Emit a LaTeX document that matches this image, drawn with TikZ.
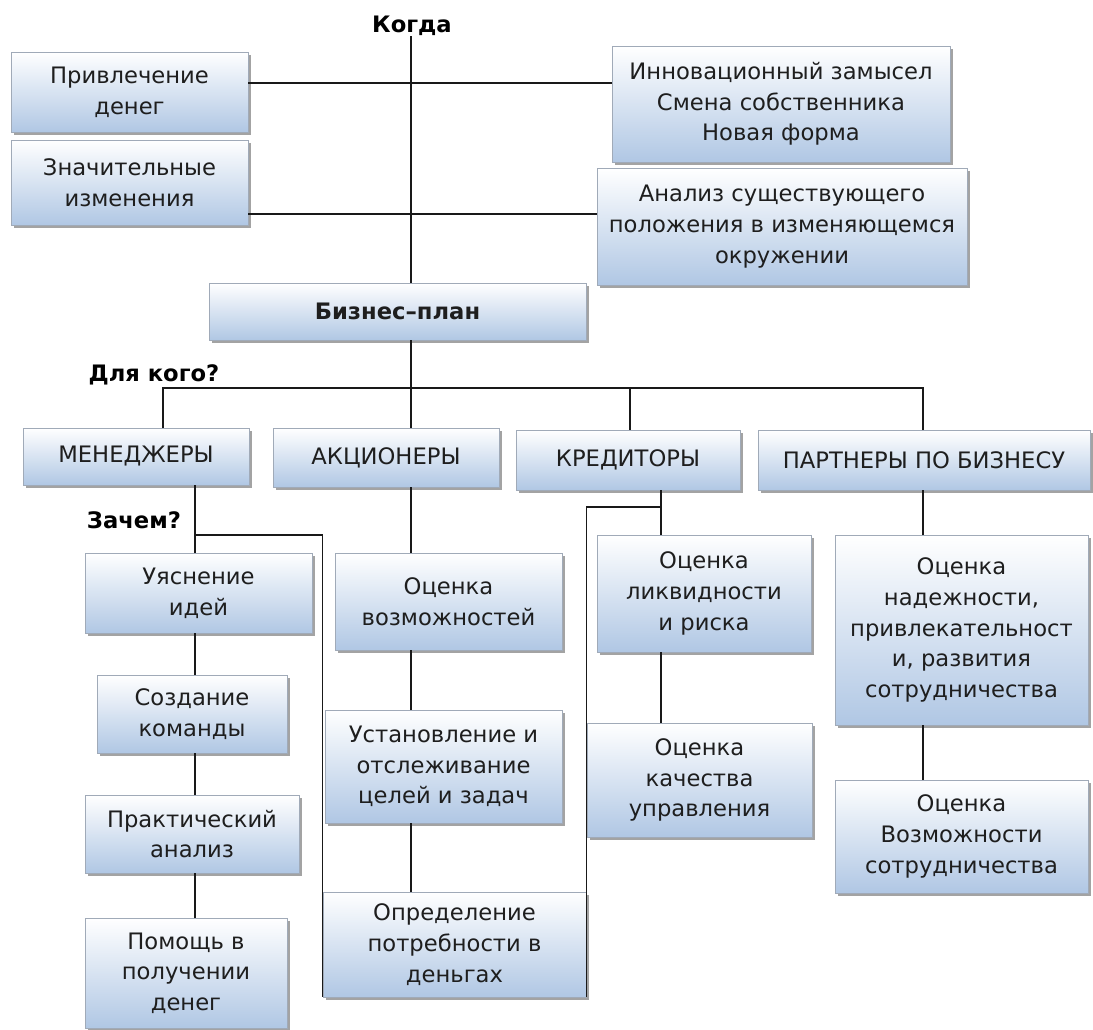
\documentclass[tikz,border=0pt]{standalone}
\usepackage{fontspec}
\setmainfont{DejaVu Sans}
\usetikzlibrary{shadows}
\definecolor{boxblue}{RGB}{176,199,228}
\definecolor{boxedge}{RGB}{160,170,184}
\definecolor{txt}{RGB}{30,30,30}
\tikzset{
  box/.style={draw=boxedge, line width=0.6pt, top color=white, bottom color=boxblue,
    align=center, inner sep=0pt, text=txt, font=\fontsize{17}{23}\selectfont,
    drop shadow={shadow xshift=2pt, shadow yshift=-2.2pt, fill=black!60, opacity=0.6}},
  lbl/.style={font=\fontsize{17}{20}\selectfont\bfseries, inner sep=0pt, text=black},
  conn/.style={line width=1.3pt, black!90}
}
\newcommand\boxat[6]{\node[box, minimum width={(#4-#2)*0.75pt}, minimum height={(#5-#3)*0.75pt}] (#1) at ({(#2+#4)/2},{(#3+#5)/2}) {#6};}
\begin{document}
\begin{tikzpicture}[x=0.75pt,y=-0.75pt]
\useasboundingbox (0,0) rectangle (1093,1030);
% labels
\node[lbl] (kogda) at (412,26) {Когда};
\node[lbl] (dlya) at (154,375) {Для кого?};
\node[lbl] (zachem) at (134,520) {Зачем?};
% top boxes
\boxat{privl}{11}{52}{248}{132}{Привлечение\\денег}
\boxat{znach}{11}{140}{248}{225}{Значительные\\изменения}
\boxat{innov}{612}{46}{950}{162}{Инновационный замысел\\Смена собственника\\Новая форма}
\boxat{anal}{597}{168}{967}{285}{Анализ существующего\\положения в изменяющемся\\окружении}
\boxat{bp}{209}{283}{586}{340}{\textbf{Бизнес–план}}
% audience
\boxat{men}{23}{428}{249}{485}{МЕНЕДЖЕРЫ}
\boxat{akc}{273}{428}{499}{487}{АКЦИОНЕРЫ}
\boxat{kred}{516}{430}{740}{490}{КРЕДИТОРЫ}
\boxat{part}{758}{430}{1090}{490}{ПАРТНЕРЫ ПО БИЗНЕСУ}
% managers column
\boxat{uyasn}{85}{553}{312}{633}{Уяснение\\идей}
\boxat{sozd}{97}{675}{287}{753}{Создание\\команды}
\boxat{prakt}{85}{795}{299}{873}{Практический\\анализ}
\boxat{pomosh}{85}{918}{287}{1028}{Помощь в\\получении\\денег}
% shareholders column
\boxat{ocvoz}{335}{553}{562}{650}{Оценка\\возможностей}
\boxat{ustan}{325}{710}{562}{823}{Установление и\\отслеживание\\целей и задач}
\boxat{opred}{323}{892}{586}{997}{Определение\\потребности в\\деньгах}
% creditors column
\boxat{ocliq}{597}{535}{811}{652}{Оценка\\ликвидности\\и риска}
\boxat{ockach}{587}{723}{812}{837}{Оценка\\качества\\управления}
% partners column
\boxat{ocnad}{835}{535}{1088}{725}{Оценка\\надежности,\\привлекательност\\и, развития\\сотрудничества}
\boxat{ocvozm}{835}{780}{1088}{893}{Оценка\\Возможности\\сотрудничества}
% helper coordinates
\coordinate (xc) at (411,0);
\coordinate (ya) at (0,83);
\coordinate (yb) at (0,214);
\coordinate (ybus) at (0,388);
\coordinate (xm) at (163,0);
\coordinate (xz) at (195,0);
\coordinate (yz) at (0,535);
\coordinate (xk) at (661,0);
\coordinate (yk) at (0,507);
\coordinate (xp) at (923,0);
\coordinate (xkr) at (630,0);
% connectors
\draw[conn] (kogda.south -| xc) -- (bp.north -| xc);
\draw[conn] (privl.east |- ya) -- (innov.west |- ya);
\draw[conn] (znach.east |- yb) -- (anal.west |- yb);
\draw[conn] (bp.south -| xc) -- (akc.north -| xc);
\draw[conn] (men.north -| xm) -- (xm |- ybus) -- (xp |- ybus) -- (part.north -| xp);
\draw[conn] (kred.north -| xkr) -- (xkr |- ybus);
\draw[conn] (men.south -| xz) -- (uyasn.north -| xz);
\draw[conn] (uyasn.south -| xz) -- (sozd.north -| xz);
\draw[conn] (sozd.south -| xz) -- (prakt.north -| xz);
\draw[conn] (prakt.south -| xz) -- (pomosh.north -| xz);
\draw[conn] (xz |- yz) -| (opred.south west);
\draw[conn] (akc.south -| xc) -- (ocvoz.north -| xc);
\draw[conn] (ocvoz.south -| xc) -- (ustan.north -| xc);
\draw[conn] (ustan.south -| xc) -- (opred.north -| xc);
\draw[conn] (kred.south -| xk) -- (ocliq.north -| xk);
\draw[conn] (ocliq.south -| xk) -- (ockach.north -| xk);
\draw[conn] (xk |- yk) -| (opred.south east);
\draw[conn] (part.south -| xp) -- (ocnad.north -| xp);
\draw[conn] (ocnad.south -| xp) -- (ocvozm.north -| xp);
\end{tikzpicture}
\end{document}
